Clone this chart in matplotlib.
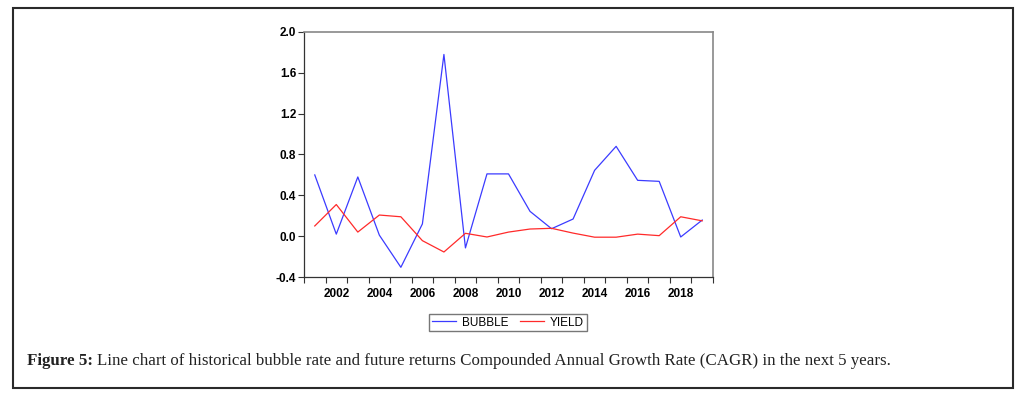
import matplotlib.pyplot as plt
from matplotlib.patches import Rectangle
from matplotlib.ticker import FixedLocator

# data
years = list(range(2001, 2020))
bubble = [0.60, 0.02, 0.58, 0.01, -0.305, 0.12, 1.78, -0.115, 0.61, 0.61,
          0.243, 0.073, 0.168, 0.645, 0.88, 0.547, 0.537, -0.008, 0.158]
yield_ = [0.10, 0.31, 0.04, 0.207, 0.19, -0.044, -0.155, 0.028, -0.008, 0.04,
          0.07, 0.077, 0.03, -0.01, -0.01, 0.02, 0.005, 0.19, 0.15]
label_years = list(range(2002, 2019, 2))
ytick_vals = [-0.4, 0.0, 0.4, 0.8, 1.2, 1.6, 2.0]

W, H = 1026, 395
fig = plt.figure(figsize=(W / 100, H / 100), dpi=100)

# outer frame
fig.patches.append(Rectangle((12.5 / W, 1 - 388 / H), (1013 - 12.5) / W, (388 - 8) / H,
                             transform=fig.transFigure, fill=False,
                             edgecolor='#2a2a2a', linewidth=1.5))

ax = fig.add_axes([304 / W, 1 - 277 / H, (713 - 304) / W, (277 - 32) / H])
ax.plot(years, bubble, color='#3b3bff', linewidth=0.9, label='BUBBLE')
ax.plot(years, yield_, color='#ff2a2a', linewidth=0.9, label='YIELD')

ax.set_xlim(2000.5, 2019.5)
ax.set_ylim(-0.4, 2.0)

# ticks at year boundaries, labels in the middle of the year
ax.xaxis.set_major_locator(FixedLocator([y + 0.5 for y in range(2000, 2020)]))
ax.tick_params(axis='x', which='major', labelbottom=False, direction='out',
               length=4.5, width=0.8, color='#333333')
ax.set_xticks(label_years, minor=True)
ax.set_xticklabels([str(y) for y in label_years], minor=True,
                   fontsize=8.5, fontweight='bold', family='Liberation Sans')
ax.tick_params(axis='x', which='minor', length=0, pad=8)

ax.set_yticks(ytick_vals)
ax.set_yticklabels(['%.1f' % v for v in ytick_vals], fontsize=8.5,
                   fontweight='bold', family='Liberation Sans')
ax.tick_params(axis='y', direction='out', length=4.5, width=0.8, color='#333333', pad=1)

for side in ['left', 'bottom']:
    ax.spines[side].set_color('#333333')
    ax.spines[side].set_linewidth(0.9)
for side in ['top', 'right']:
    ax.spines[side].set_color('#888888')
    ax.spines[side].set_linewidth(1.2)

leg = ax.legend(loc='center', bbox_to_anchor=(508 / W, 1 - 322.5 / H),
                bbox_transform=fig.transFigure, ncol=2, frameon=True,
                fancybox=False, edgecolor='#555555', handlelength=2.0,
                columnspacing=1.0, handletextpad=0.5, borderpad=0.25,
                prop={'family': 'Liberation Sans', 'size': 8.5})
leg.get_frame().set_linewidth(1.0)

# caption: bold lead then regular text right after it
fig.canvas.draw()
lead = fig.text(27 / W, 1 - 361 / H, 'Figure 5:', fontsize=12.2, fontweight='bold',
                family='Liberation Serif', color='#222222', va='center')
bb = lead.get_window_extent(renderer=fig.canvas.get_renderer())
fig.text(bb.x1 / W + 4 / W, 1 - 361 / H,
         'Line chart of historical bubble rate and future returns Compounded Annual '
         'Growth Rate (CAGR) in the next 5 years.',
         fontsize=12.2, family='Liberation Serif', color='#222222', va='center')

fig.savefig('out.png', dpi=100)
